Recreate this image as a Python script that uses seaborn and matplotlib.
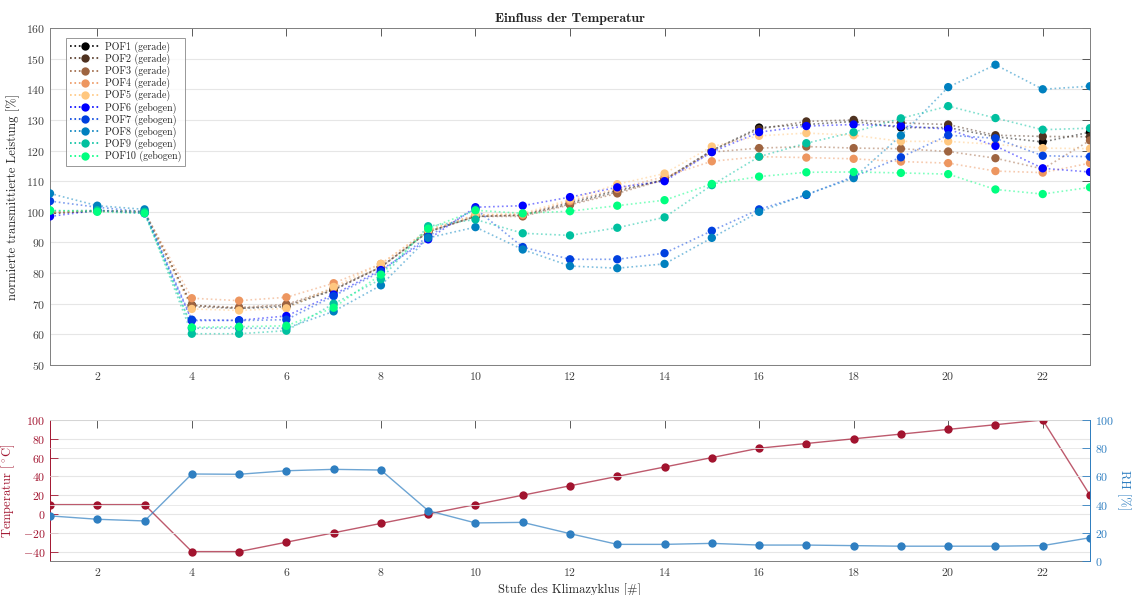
import numpy as np
import pandas as pd
import matplotlib
matplotlib.use("Agg")
import matplotlib.pyplot as plt
from matplotlib.lines import Line2D
import seaborn as sns

# ---------------- data ----------------
stufe = list(range(1, 24))
series_names = ["POF1 (gerade)", "POF2 (gerade)", "POF3 (gerade)", "POF4 (gerade)", "POF5 (gerade)",
                "POF6 (gebogen)", "POF7 (gebogen)", "POF8 (gebogen)", "POF9 (gebogen)", "POF10 (gebogen)"]
pof1 = [99.5, 100.3, 100, 69.5, 68.5, 69, 74.5, 82, 93.5, 98.5, 99, 103, 107, 110.5, 120, 127.5, 128.5, 129.5, 127.5, 127.5, 124.5, 122.8, 126]
pof2 = [99.5, 100.3, 100, 69, 68.5, 69.5, 74.5, 82, 93.5, 98.5, 98.8, 102.5, 106.5, 110.5, 120, 127, 129.5, 130, 129, 128.5, 125, 124.6, 124.5]
pof3 = [99.8, 100.3, 100, 69.5, 68.8, 69.8, 75, 82, 93.5, 98.5, 98.5, 102.3, 106, 110.5, 119.5, 120.8, 121.3, 120.8, 120.6, 119.7, 117.5, 114, 123.3]
pof4 = [100, 100.3, 100, 71.8, 71, 72.1, 76.7, 83, 94, 99, 99, 103.5, 107.5, 111.5, 116.5, 118, 117.7, 117.3, 116.4, 115.9, 113.3, 112.8, 115.9]
pof5 = [100, 100.3, 100, 68.3, 67.8, 68.5, 75.5, 83, 94, 99, 99.5, 104, 109, 112.5, 121.3, 124.8, 125.7, 125, 123, 123, 122, 120.8, 120.6]
pof6 = [98.5, 100.5, 99.5, 64.5, 64.6, 66, 73, 81, 91, 101.5, 102, 104.8, 108, 110, 119.5, 126, 128, 128.5, 128, 127, 121.5, 114.2, 113]
pof7 = [103.5, 101.5, 100, 64.8, 64.5, 64.8, 72.5, 80.5, 92, 101, 88.5, 84.5, 84.5, 86.5, 93.8, 100.8, 105.5, 111.5, 117.8, 125, 124, 118.3, 118]
pof8 = [106, 102, 100.8, 62, 62, 62, 67.5, 76, 91.5, 95, 87.7, 82.3, 81.6, 83, 91.5, 100, 105.7, 111, 124.9, 140.7, 148, 140, 141]
pof9 = [100.3, 100.5, 100, 60.2, 60.2, 61.2, 70, 78, 95.3, 97.5, 93, 92.3, 94.8, 98.2, 108.7, 118, 122.4, 126, 130.5, 134.5, 130.6, 126.8, 127.3]
pof10 = [100.5, 100, 99.5, 62.3, 62.5, 62.8, 68.7, 79.5, 94.5, 100.5, 99.5, 100.2, 102, 103.8, 109.1, 111.5, 112.9, 113, 112.7, 112.3, 107.3, 105.8, 108]
temperatur = [10, 10, 10, -40, -40, -30, -20, -10, 0, 10, 20, 30, 40, 50, 60, 70, 75, 80, 85, 90, 95, 100, 20]
rh = [32, 29.6, 28.4, 61.7, 61.5, 64, 65, 64.5, 35.7, 27, 27.4, 19.4, 11.8, 11.8, 12.5, 11.3, 11.3, 10.9, 10.5, 10.5, 10.5, 10.9, 16.5]
x_ticks = [2, 4, 6, 8, 10, 12, 14, 16, 18, 20, 22]

all_series = [pof1, pof2, pof3, pof4, pof5, pof6, pof7, pof8, pof9, pof10]
df = pd.DataFrame({
    "Stufe": np.tile(stufe, len(series_names)),
    "Leistung": np.concatenate(all_series),
    "POF": np.repeat(series_names, len(stufe)),
})
df_klima = pd.DataFrame({"Stufe": stufe, "Temperatur": temperatur, "RH": rh})

# ---------------- style ----------------
sns.set_theme(style="white")
plt.rcParams["font.family"] = ["cmr10", "DejaVu Serif"]
plt.rcParams["mathtext.fontset"] = "cm"
plt.rcParams["axes.formatter.use_mathtext"] = True
plt.rcParams["axes.unicode_minus"] = True

copper = plt.get_cmap("copper")(np.linspace(0, 1, 5))
winter = plt.get_cmap("winter")(np.linspace(0, 1, 5))
colors = [tuple(c) for c in copper] + [tuple(c) for c in winter]
palette = dict(zip(series_names, colors))

temp_col = "#a2142f"
rh_col = "#2f7fc1"
tick_col = "#404040"
grid_col = "#e6e6e6"

fig = plt.figure(figsize=(11.34, 5.95), dpi=100)
ax1 = fig.add_axes([50 / 1134, 1 - 365 / 595, 1040 / 1134, 337 / 595])
ax2 = fig.add_axes([50 / 1134, 1 - 561 / 595, 1040 / 1134, 141 / 595])

# ---------------- top chart ----------------
sns.lineplot(data=df, x="Stufe", y="Leistung", hue="POF", palette=palette, ax=ax1,
             linestyle=":", linewidth=1.2, alpha=0.5, legend=False, zorder=2)
sns.scatterplot(data=df, x="Stufe", y="Leistung", hue="POF", palette=palette, ax=ax1,
                s=36, linewidth=0, legend=False, zorder=3)
ax1.set_xlim(1, 23)
ax1.set_ylim(50, 160)
ax1.set_yticks(np.arange(50, 161, 10))
ax1.set_xticks(x_ticks)
ax1.set_xlabel("")
ax1.set_ylabel("normierte transmittierte Leistung [%]", fontsize=9, color="#262626")
ax1.set_title("Einfluss der Temperatur", fontsize=10, fontweight="bold",
              family=["cmb10", "DejaVu Serif"], pad=4)
ax1.grid(True, axis="y", color=grid_col, linewidth=0.8)
ax1.tick_params(axis="both", direction="in", length=6, width=0.6, labelsize=8.5,
                colors=tick_col, top=True, right=True)
for sp in ax1.spines.values():
    sp.set_color("#7f7f7f")
    sp.set_linewidth(0.7)

handles = [Line2D([0], [0], color=palette[n], linestyle=":", linewidth=1.2, marker="o",
                  markersize=6, markeredgewidth=0) for n in series_names]
leg = ax1.legend(handles, series_names, loc="upper left", fontsize=7.2, frameon=True,
                 handlelength=3, borderpad=0.35, labelspacing=0.08, handletextpad=0.5,
                 fancybox=False, bbox_to_anchor=(0.011, 0.985))
leg.get_frame().set_edgecolor("#7f7f7f")
leg.get_frame().set_linewidth(0.7)

# ---------------- bottom chart ----------------
sns.lineplot(data=df_klima, x="Stufe", y="Temperatur", ax=ax2, color=temp_col,
             linewidth=1.0, alpha=0.7, zorder=2)
sns.scatterplot(data=df_klima, x="Stufe", y="Temperatur", ax=ax2, color=temp_col,
                s=36, linewidth=0, zorder=3)
ax2.set_xlim(1, 23)
ax2.set_ylim(-50, 100)
ax2.set_yticks(np.arange(-40, 101, 20))
ax2.set_xticks(x_ticks)
ax2.set_xlabel("Stufe des Klimazyklus [#]", fontsize=9, color="#262626", labelpad=4)
ax2.set_ylabel(r"Temperatur [$^\circ$C]", fontsize=9, color=temp_col)
ax2.grid(True, axis="y", color=grid_col, linewidth=0.8)
ax2.tick_params(axis="y", direction="in", length=6, width=0.6, labelsize=8.5, colors=temp_col)
ax2.tick_params(axis="x", direction="in", length=6, width=0.6, labelsize=8.5, colors=tick_col, top=True)
for sp in ax2.spines.values():
    sp.set_color("#7f7f7f")
    sp.set_linewidth(0.7)
ax2.spines["left"].set_color(temp_col)

ax3 = ax2.twinx()
sns.lineplot(data=df_klima, x="Stufe", y="RH", ax=ax3, color=rh_col,
             linewidth=1.0, alpha=0.7, zorder=2)
sns.scatterplot(data=df_klima, x="Stufe", y="RH", ax=ax3, color=rh_col,
                s=36, linewidth=0, zorder=3)
ax3.set_ylim(0, 100)
ax3.set_yticks(np.arange(0, 101, 20))
ax3.set_ylabel("RH [%]", fontsize=9, color=rh_col, rotation=270, labelpad=12)
ax3.tick_params(axis="y", direction="in", length=6, width=0.6, labelsize=8.5, colors=rh_col)
ax3.grid(True, axis="y", color=grid_col, linewidth=0.6)
ax3.set_axisbelow(True)
ax3.spines["right"].set_color(rh_col)
ax3.spines["right"].set_linewidth(0.7)
for s in ["left", "top", "bottom"]:
    ax3.spines[s].set_visible(False)

fig.savefig("out.png", dpi=100)
